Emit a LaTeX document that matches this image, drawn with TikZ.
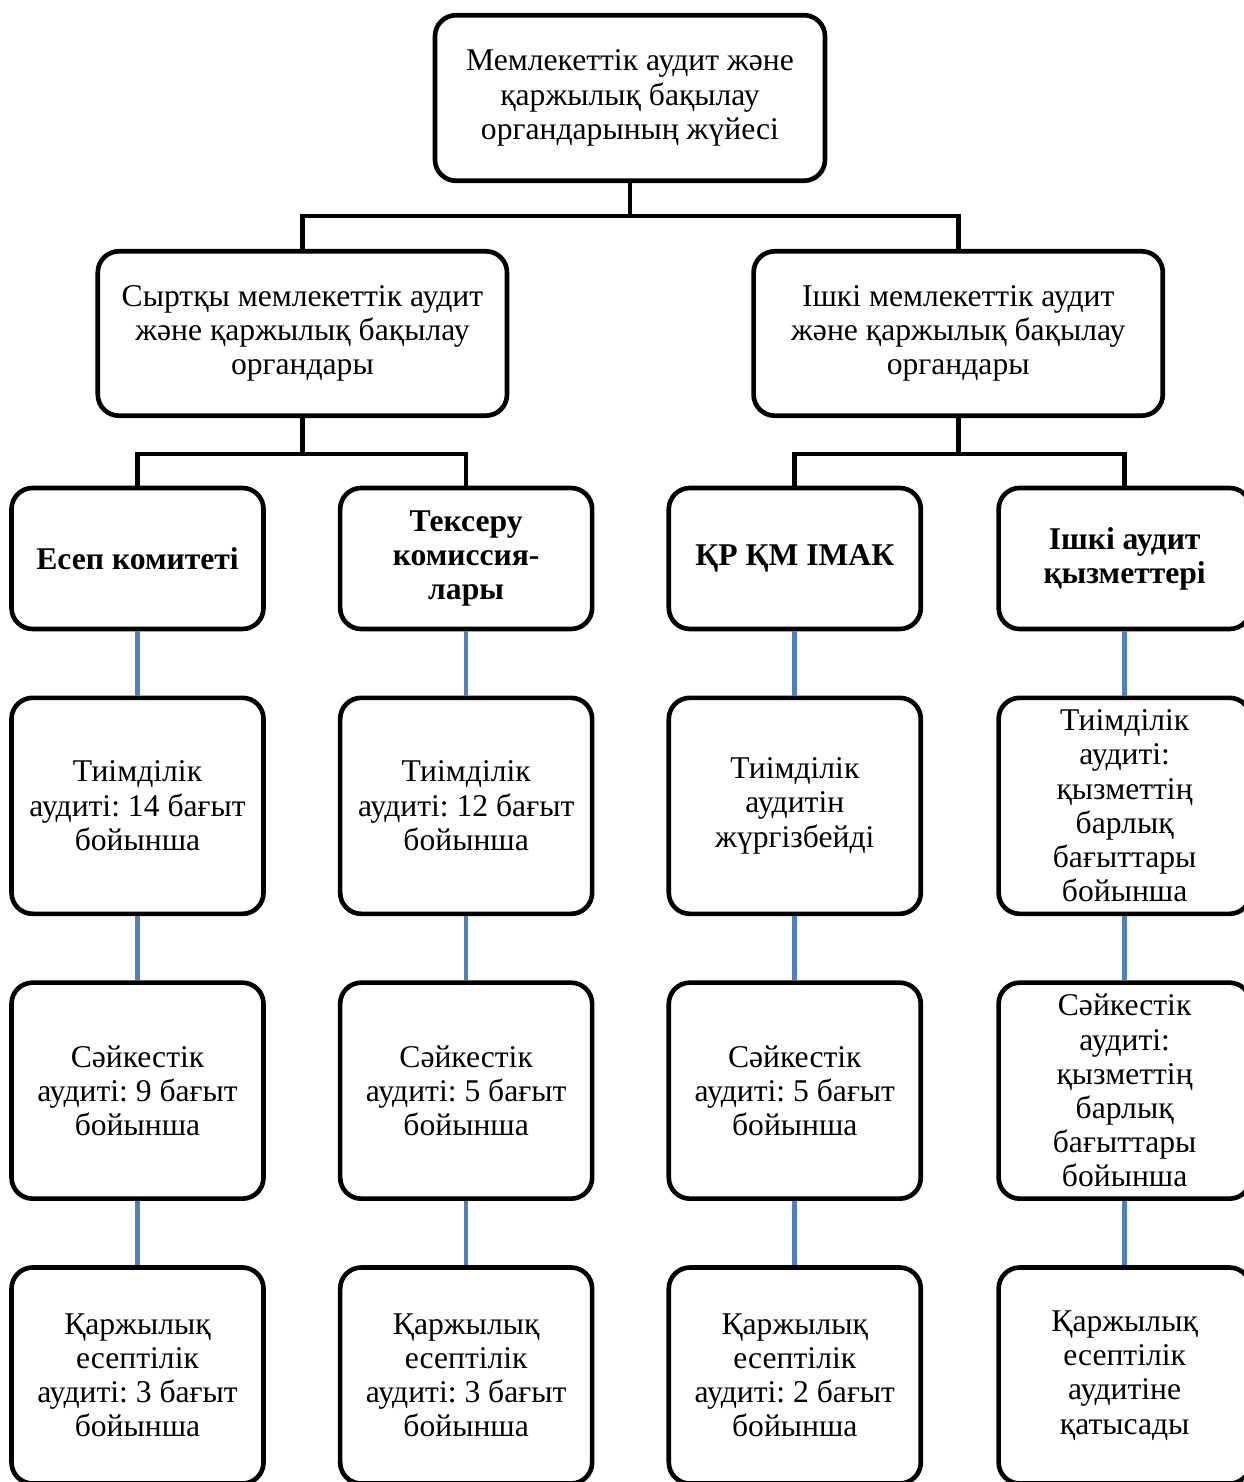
\documentclass[tikz,border=0pt]{standalone}
\usepackage{fontspec}
\setmainfont{Liberation Serif}
\usetikzlibrary{positioning,calc}
\definecolor{linkblue}{RGB}{79,129,189}
\newcommand{\boxfont}{\fontsize{15pt}{16.2pt}\selectfont\frenchspacing}

\tikzset{
	box/.style={draw, line width=2.2pt, rounded corners=10pt, align=center, inner sep=2pt, font=\boxfont},
	topbox/.style={box, minimum width=6.5cm, minimum height=2.76cm},
	midbox/.style={box, minimum width=6.82cm, minimum height=2.74cm},
	headbox/.style={box, minimum width=4.2cm, minimum height=2.35cm, font=\boxfont\bfseries},
	leafbox/.style={box, minimum width=4.2cm, minimum height=3.6cm},
	tree/.style={line width=2.2pt},
	link/.style={line width=2.2pt, linkblue},
}

\begin{document}
\begin{tikzpicture}
	\fill[white] (0,0) rectangle (20.717,-24.7);
	\useasboundingbox (0,0) rectangle (20.717,-24.7);

	\node[topbox] (sys) at (10.5,-1.633) {Мемлекеттік аудит және\\қаржылық бақылау\\органдарының жүйесі};
	\node[midbox] (ext) at (5.04,-5.558) {Сыртқы мемлекеттік аудит\\және қаржылық бақылау\\органдары};
	\node[midbox] (int) at (15.97,-5.558) {Ішкі мемлекеттік аудит\\және қаржылық бақылау\\органдары};

	\node[headbox] (ec) at (2.292,-9.308) {Есеп комитеті};
	\node[headbox, right=1.2cm of ec] (tk) {Тексеру\\комиссия-\\лары};
	\node[headbox, right=1.2cm of tk] (km) {ҚР ҚМ ІМАК};
	\node[headbox, right=1.22cm of km] (ia) {Ішкі аудит\\қызметтері};

	\node[leafbox, below=1.07cm of ec] (ec1) {Тиімділік\\аудиті: 14 бағыт\\бойынша};
	\node[leafbox, below=1.07cm of ec1] (ec2) {Сәйкестік\\аудиті: 9 бағыт\\бойынша};
	\node[leafbox, below=1.07cm of ec2] (ec3) {Қаржылық\\есептілік\\аудиті: 3 бағыт\\бойынша};

	\node[leafbox, below=1.07cm of tk] (tk1) {Тиімділік\\аудиті: 12 бағыт\\бойынша};
	\node[leafbox, below=1.07cm of tk1] (tk2) {Сәйкестік\\аудиті: 5 бағыт\\бойынша};
	\node[leafbox, below=1.07cm of tk2] (tk3) {Қаржылық\\есептілік\\аудиті: 3 бағыт\\бойынша};

	\node[leafbox, below=1.07cm of km] (km1) {Тиімділік\\аудитін\\жүргізбейді};
	\node[leafbox, below=1.07cm of km1] (km2) {Сәйкестік\\аудиті: 5 бағыт\\бойынша};
	\node[leafbox, below=1.07cm of km2] (km3) {Қаржылық\\есептілік\\аудиті: 2 бағыт\\бойынша};

	\node[leafbox, below=1.07cm of ia] (ia1) {Тиімділік\\аудиті:\\қызметтің\\барлық\\бағыттары\\бойынша};
	\node[leafbox, below=1.07cm of ia1] (ia2) {Сәйкестік\\аудиті:\\қызметтің\\барлық\\бағыттары\\бойынша};
	\node[leafbox, below=1.07cm of ia2] (ia3) {Қаржылық\\есептілік\\аудитіне\\қатысады};

	\coordinate (bus0) at ($(sys.south)+(0,-0.55)$);
	\coordinate (bus1) at ($(ext.south)+(0,-0.6)$);
	\coordinate (bus2) at ($(int.south)+(0,-0.6)$);

	\draw[tree] (sys.south) -- (bus0);
	\draw[tree] (ext.north) |- (bus0) -| (int.north);
	\draw[tree] (ext.south) -- (bus1);
	\draw[tree] (ec.north) |- (bus1) -| (tk.north);
	\draw[tree] (int.south) -- (bus2);
	\draw[tree] (km.north) |- (bus2) -| (ia.north);

	\draw[link] (ec) -- (ec1) (ec1) -- (ec2) (ec2) -- (ec3);
	\draw[link] (tk) -- (tk1) (tk1) -- (tk2) (tk2) -- (tk3);
	\draw[link] (km) -- (km1) (km1) -- (km2) (km2) -- (km3);
	\draw[link] (ia) -- (ia1) (ia1) -- (ia2) (ia2) -- (ia3);
\end{tikzpicture}
\end{document}
